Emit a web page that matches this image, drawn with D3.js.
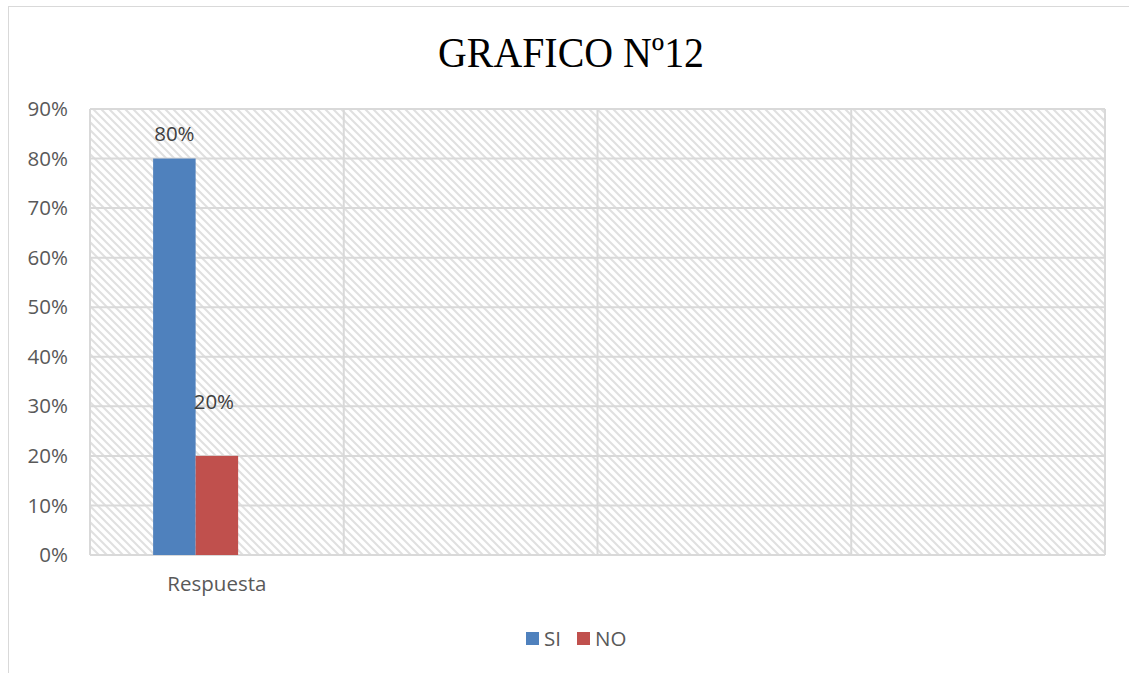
<!DOCTYPE html>
<html><head><meta charset="utf-8">
<script src="https://cdn.jsdelivr.net/npm/d3@7"></script>
<style>body{margin:0;background:#fff}svg{display:block}</style>
</head><body>
<script>
const categories = ["Respuesta", "", "", ""];
const seriesNames = ["SI", "NO"];
const siValues = [0.80];
const noValues = [0.20];
const yTicks = [0, 0.1, 0.2, 0.3, 0.4, 0.5, 0.6, 0.7, 0.8, 0.9];
const colors = ["#4f81bd", "#c0504d"];
const title = "GRAFICO Nº12";

const W = 1129, H = 673;
const FS = 20.5;
const svg = d3.select("body").append("svg").attr("width", W).attr("height", H);
const defs = svg.append("defs");
const pat = defs.append("pattern").attr("id","hatch").attr("patternUnits","userSpaceOnUse")
  .attr("width",8).attr("height",8);
pat.append("rect").attr("width",8).attr("height",8).attr("fill","#fff");
pat.append("path").attr("d","M-2,-2L10,10M-2,6L2,10M6,-2L10,2").attr("stroke","#e0e0e0").attr("stroke-width",2);

// outer chart border
svg.append("rect").attr("x",8.5).attr("y",6.5).attr("width",W+20).attr("height",H+20)
  .attr("fill","none").attr("stroke","#d9d9d9");

const m = {l:90, r:1105, t:109, b:555};
const x0 = d3.scaleBand().domain(d3.range(categories.length)).range([m.l, m.r]).paddingInner(0).paddingOuter(0);
const slots = ["SI","NO","_"];
const x1 = d3.scaleBand().domain(slots).range([0, x0.bandwidth()]).paddingInner(0).paddingOuter(1.485);
const y = d3.scaleLinear().domain([0, 0.9]).range([m.b, m.t]);

svg.append("rect").attr("x",m.l).attr("y",m.t).attr("width",m.r-m.l).attr("height",m.b-m.t).attr("fill","url(#hatch)");

// gridlines
svg.append("g").selectAll("line").data(yTicks).join("line")
  .attr("x1",m.l).attr("x2",m.r).attr("y1",d=>y(d)).attr("y2",d=>y(d))
  .attr("stroke","#d9d9d9").attr("stroke-width",2);
svg.append("g").selectAll("line").data(d3.range(categories.length+1)).join("line")
  .attr("x1",d=>m.l + d*x0.bandwidth()).attr("x2",d=>m.l + d*x0.bandwidth())
  .attr("y1",m.t).attr("y2",m.b).attr("stroke","#d9d9d9").attr("stroke-width",2);

// y axis labels
const yAxis = d3.axisLeft(y).tickValues(yTicks).tickFormat(d3.format(".0%")).tickSize(0).tickPadding(22);
const ga = svg.append("g").attr("transform",`translate(${m.l},0)`).call(yAxis);
ga.select(".domain").remove();
ga.selectAll("text").attr("font-family","Open Sans").attr("font-size",FS).attr("fill","#595959");

// x axis labels
const xAxis = d3.axisBottom(x0).tickFormat(i=>categories[i]).tickSize(0).tickPadding(21);
const gx = svg.append("g").attr("transform",`translate(0,${m.b})`).call(xAxis);
gx.select(".domain").remove();
gx.selectAll("text").attr("font-family","Open Sans").attr("font-size",FS).attr("fill","#595959");

// bars
const seriesData = [siValues, noValues];
const labelOffsets = [18, 47];
seriesData.forEach((vals, si) => {
  const g = svg.append("g");
  g.selectAll("rect").data(vals).join("rect")
    .attr("x",(d,i)=>x0(i)+x1(seriesNames[si]))
    .attr("width",x1.bandwidth())
    .attr("y",d=>y(d)).attr("height",d=>y(0)-y(d))
    .attr("fill",colors[si]);
  g.selectAll("text").data(vals).join("text")
    .attr("x",(d,i)=>x0(i)+x1(seriesNames[si])+x1.bandwidth()/2 - (si===1?3:0))
    .attr("y",d=>y(d)-labelOffsets[si])
    .attr("text-anchor","middle").attr("font-family","Open Sans").attr("font-size",FS).attr("fill","#404040")
    .text(d3.format(".0%"));
});

// title
svg.append("text").attr("x",571).attr("y",67).attr("text-anchor","middle")
  .attr("font-family","Liberation Serif").attr("font-size",43).attr("fill","#000")
  .attr("textLength",266).attr("lengthAdjust","spacingAndGlyphs").text(title);

// legend
const leg = svg.append("g");
const legX = [526, 577];
seriesNames.forEach((n,i)=>{
  leg.append("rect").attr("x",legX[i]).attr("y",632).attr("width",13).attr("height",13).attr("fill",colors[i]);
  leg.append("text").attr("x",legX[i]+18).attr("y",646).attr("font-family","Open Sans").attr("font-size",FS)
    .attr("fill","#595959").text(n);
});
</script>
</body></html>
